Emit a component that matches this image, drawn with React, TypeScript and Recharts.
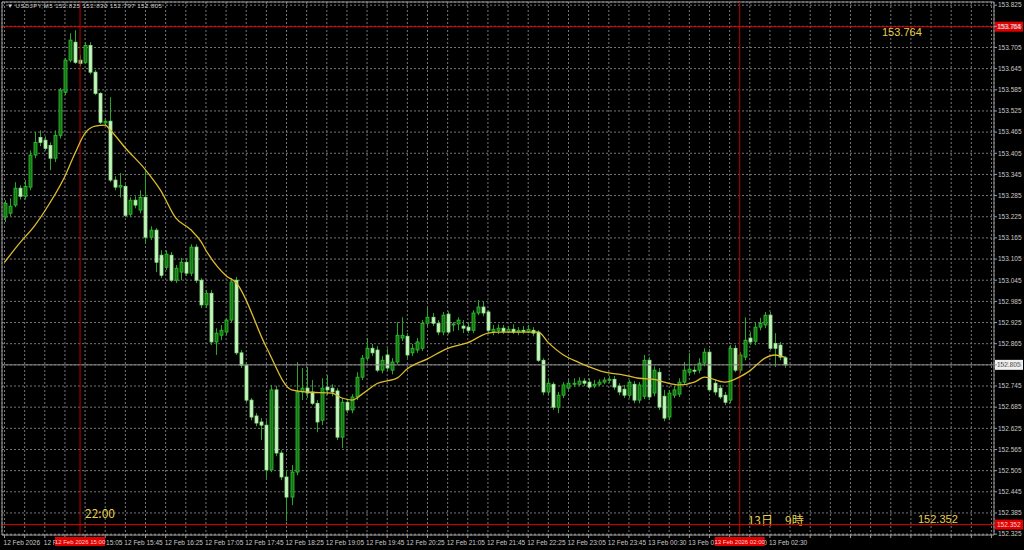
import { ComposedChart, Bar, Line, XAxis, YAxis, CartesianGrid, ReferenceLine } from "recharts"

// USDJPY M5 candles, 12 Feb 13:45 -> 13 Feb 02:45 (server time)
const opens = [
  153.224, 153.235, 153.258, 153.306, 153.283, 153.309, 153.4, 153.45, 153.442, 153.427,
  153.391, 153.456, 153.578, 153.669, 153.72, 153.669, 153.663, 153.711, 153.635, 153.575,
  153.491, 153.496, 153.329, 153.309, 153.311, 153.232, 153.272, 153.244, 153.28, 153.167,
  153.187, 153.116, 153.082, 153.116, 153.045, 153.068, 153.096, 153.065, 153.139, 153.045,
  152.975, 153.008, 152.87, 152.889, 152.898, 152.932, 153.045, 152.839, 152.804, 152.705,
  152.66, 152.643, 152.634, 152.507, 152.734, 152.555, 152.487, 152.43, 152.501, 152.728,
  152.739, 152.728, 152.696, 152.648, 152.742, 152.739, 152.731, 152.6, 152.699, 152.677,
  152.714, 152.77, 152.824, 152.852, 152.847, 152.79, 152.833, 152.79, 152.813, 152.881,
  152.886, 152.839, 152.847, 152.852, 152.923, 152.94, 152.923, 152.898, 152.949, 152.918,
  152.921, 152.915, 152.912, 152.903, 152.952, 152.969, 152.955, 152.9, 152.903, 152.909,
  152.9, 152.906, 152.898, 152.903, 152.9, 152.903, 152.898, 152.818, 152.728, 152.75,
  152.685, 152.719, 152.739, 152.75, 152.75, 152.759, 152.756, 152.745, 152.75, 152.756,
  152.762, 152.764, 152.745, 152.736, 152.719, 152.75, 152.705, 152.716, 152.818, 152.725,
  152.784, 152.716, 152.657, 152.719, 152.722, 152.756, 152.784, 152.79, 152.79, 152.81,
  152.841, 152.753, 152.739, 152.719, 152.705, 152.852, 152.79, 152.827, 152.881, 152.872,
  152.912, 152.918, 152.946, 152.866, 152.861, 152.825,
]
const highs = [
  153.272, 153.277, 153.323, 153.314, 153.329, 153.413, 153.465, 153.47, 153.453, 153.436,
  153.47, 153.59, 153.675, 153.745, 153.754, 153.683, 153.72, 153.72, 153.641, 153.578,
  153.505, 153.564, 153.34, 153.349, 153.317, 153.28, 153.283, 153.3, 153.357, 153.198,
  153.193, 153.13, 153.13, 153.125, 153.088, 153.108, 153.108, 153.147, 153.147, 153.051,
  153.017, 153.017, 152.909, 152.918, 152.938, 153.051, 153.054, 152.847, 152.813, 152.711,
  152.668, 152.654, 152.648, 152.748, 152.745, 152.563, 152.507, 152.521, 152.813, 152.796,
  152.799, 152.762, 152.705, 152.767, 152.776, 152.75, 152.739, 152.711, 152.708, 152.722,
  152.784, 152.833, 152.881, 152.864, 152.858, 152.83, 152.852, 152.824, 152.926, 152.94,
  152.895, 152.864, 152.881, 152.932, 152.966, 152.952, 152.932, 152.955, 152.957, 152.926,
  152.94, 152.932, 152.926, 152.96, 152.989, 152.983, 152.96, 152.918, 152.92, 152.918,
  152.915, 152.92, 152.912, 152.915, 152.918, 152.912, 152.903, 152.824, 152.767, 152.756,
  152.728, 152.756, 152.762, 152.767, 152.77, 152.767, 152.767, 152.762, 152.764, 152.77,
  152.773, 152.773, 152.753, 152.748, 152.762, 152.759, 152.756, 152.833, 152.827, 152.801,
  152.796, 152.734, 152.734, 152.745, 152.767, 152.813, 152.839, 152.801, 152.824, 152.852,
  152.85, 152.762, 152.748, 152.728, 152.861, 152.861, 152.841, 152.94, 152.898, 152.926,
  152.938, 152.955, 152.955, 152.895, 152.87, 152.83,
]
const lows = [
  153.21, 153.227, 153.252, 153.274, 153.274, 153.3, 153.391, 153.425, 153.413, 153.357,
  153.38, 153.447, 153.57, 153.663, 153.658, 153.652, 153.658, 153.629, 153.57, 153.488,
  153.485, 153.323, 153.3, 153.28, 153.224, 153.224, 153.249, 153.235, 153.15, 153.159,
  153.068, 153.051, 153.074, 153.04, 153.037, 153.045, 153.057, 153.057, 153.037, 152.966,
  152.966, 152.861, 152.833, 152.875, 152.889, 152.926, 152.833, 152.796, 152.699, 152.648,
  152.631, 152.592, 152.484, 152.501, 152.546, 152.478, 152.362, 152.407, 152.492, 152.705,
  152.711, 152.691, 152.614, 152.634, 152.719, 152.716, 152.592, 152.569, 152.668, 152.668,
  152.705, 152.762, 152.815, 152.83, 152.784, 152.781, 152.787, 152.778, 152.807, 152.872,
  152.824, 152.83, 152.839, 152.844, 152.915, 152.915, 152.889, 152.889, 152.892, 152.9,
  152.903, 152.895, 152.895, 152.895, 152.946, 152.943, 152.895, 152.889, 152.892, 152.892,
  152.895, 152.892, 152.889, 152.892, 152.895, 152.886, 152.813, 152.719, 152.719, 152.677,
  152.668, 152.711, 152.734, 152.742, 152.745, 152.745, 152.736, 152.739, 152.745, 152.75,
  152.753, 152.734, 152.719, 152.711, 152.711, 152.696, 152.696, 152.708, 152.705, 152.716,
  152.677, 152.645, 152.648, 152.711, 152.714, 152.748, 152.776, 152.778, 152.781, 152.801,
  152.728, 152.719, 152.708, 152.691, 152.696, 152.784, 152.781, 152.818, 152.861, 152.861,
  152.903, 152.909, 152.847, 152.799, 152.818, 152.797,
]
const closes = [
  153.263, 153.255, 153.306, 153.283, 153.311, 153.4, 153.436, 153.436, 153.419, 153.391,
  153.456, 153.584, 153.669, 153.726, 153.663, 153.66, 153.711, 153.635, 153.575, 153.493,
  153.496, 153.329, 153.309, 153.314, 153.229, 153.272, 153.258, 153.28, 153.167, 153.187,
  153.096, 153.059, 153.119, 153.045, 153.079, 153.096, 153.065, 153.139, 153.045, 152.975,
  153.008, 152.87, 152.895, 152.903, 152.932, 153.04, 152.839, 152.804, 152.705, 152.657,
  152.64, 152.634, 152.507, 152.734, 152.555, 152.487, 152.43, 152.501, 152.728, 152.739,
  152.725, 152.696, 152.643, 152.739, 152.734, 152.728, 152.6, 152.699, 152.677, 152.714,
  152.77, 152.824, 152.852, 152.839, 152.79, 152.818, 152.796, 152.813, 152.889, 152.889,
  152.833, 152.852, 152.87, 152.923, 152.94, 152.923, 152.898, 152.946, 152.898, 152.921,
  152.932, 152.909, 152.903, 152.952, 152.969, 152.952, 152.903, 152.906, 152.909, 152.9,
  152.906, 152.898, 152.903, 152.9, 152.906, 152.895, 152.818, 152.728, 152.753, 152.685,
  152.719, 152.748, 152.753, 152.753, 152.759, 152.753, 152.742, 152.75, 152.756, 152.762,
  152.764, 152.742, 152.728, 152.719, 152.756, 152.705, 152.748, 152.818, 152.714, 152.79,
  152.685, 152.654, 152.725, 152.734, 152.756, 152.79, 152.793, 152.787, 152.81, 152.841,
  152.734, 152.728, 152.714, 152.699, 152.852, 152.79, 152.833, 152.875, 152.87, 152.912,
  152.923, 152.946, 152.852, 152.852, 152.827, 152.805,
]

// moving average at these bars
const maBars = [
  0, 3, 6, 9, 12, 14, 16, 18, 20, 21, 24, 28, 31, 34, 37, 39, 40, 44, 46, 52, 57, 60, 65, 67, 69, 71,
  74, 78, 80, 84, 88, 92, 96, 98, 106, 108, 111, 114, 116, 119, 123, 126, 129, 131, 134, 137, 139,
  143, 146, 148, 151, 153, 155,
]
const maValues = [
  153.096, 153.15, 153.2, 153.264, 153.34, 153.405, 153.462, 153.482, 153.485, 153.471, 153.42,
  153.358, 153.3, 153.222, 153.188, 153.155, 153.13, 153.058, 153.038, 152.855, 152.734, 152.728,
  152.725, 152.711, 152.705, 152.722, 152.752, 152.768, 152.794, 152.822, 152.852, 152.868, 152.895,
  152.898, 152.898, 152.868, 152.833, 152.812, 152.8, 152.785, 152.776, 152.767, 152.764, 152.756,
  152.748, 152.756, 152.77, 152.756, 152.771, 152.788, 152.824, 152.833, 152.826,
]

const tickBars = [0, 8, 16, 24, 32, 40, 48, 56, 64, 72, 80, 88, 96, 104, 112, 120, 128, 136, 144, 152]
const tickTexts = [
  "12 Feb 2026", "12 Feb 14:25", "12 Feb 15:05", "12 Feb 15:45", "12 Feb 16:25", "12 Feb 17:05",
  "12 Feb 17:45", "12 Feb 18:25", "12 Feb 19:05", "12 Feb 19:45", "12 Feb 20:25", "12 Feb 21:05",
  "12 Feb 21:45", "12 Feb 22:25", "12 Feb 23:05", "12 Feb 23:45", "13 Feb 00:30", "13 Feb 01:10",
  "13 Feb 01:50", "13 Feb 02:30",
]

const priceTicks = [
  153.825, 153.765, 153.705, 153.645, 153.585, 153.525, 153.465, 153.405, 153.345, 153.285,
  153.225, 153.165, 153.105, 153.045, 152.985, 152.925, 152.865, 152.805, 152.745, 152.685,
  152.625, 152.565, 152.505, 152.445, 152.385, 152.325,
]

const highLine = 153.764
const lowLine = 152.352
const bidPrice = 152.805
const markBars = [15, 146]
const markTimes = ["12 Feb 2026 15:00", "13 Feb 2026 02:00"]
const markNotes = ["22:00", "13日\u30009時"]
const header = "USDJPY,M5 152.825 152.830 152.797 152.805"

const SLOTS = 197 // bars + empty space on the right (chart shift)
const GRID_STEP = 4

const rows = Array.from({ length: SLOTS }, (_, i) => {
  const row: any = { i }
  if (i < opens.length) {
    row.range = [lows[i], highs[i]]
    row.open = opens[i]
    row.close = closes[i]
  }
  const k = maBars.indexOf(i)
  if (k >= 0) row.ma = maValues[k]
  return row
})

const FONT = "'Liberation Sans', Arial, sans-serif"
const YELLOW = "#e6cf4a"
const RED = "#e00000"

function Candle(props: any) {
  const { x, y, width, height, payload } = props
  if (!payload || !payload.range) return null
  const [lo, hi] = payload.range
  const top = Math.min(y, y + height)
  const h = Math.abs(height)
  const yAt = (p: number) => top + ((hi - p) / (hi - lo)) * h
  const cx = Math.round(x + width / 2) + 0.5
  const yo = yAt(payload.open)
  const yc = yAt(payload.close)
  const bull = payload.close >= payload.open
  const bt = Math.min(yo, yc)
  const bh = Math.max(1, Math.abs(yo - yc))
  return (
    <g>
      <line x1={cx} x2={cx} y1={top} y2={top + h} stroke="#2aa52a" strokeWidth={1} />
      <rect
        x={cx - 1.5}
        y={bt}
        width={3}
        height={bh}
        fill={bull ? "#137513" : "#c6f4be"}
        stroke={bull ? "#32c432" : "#94e48e"}
        strokeWidth={0.8}
      />
    </g>
  )
}

// time labels; the red time tags of the vertical lines are drawn from the next grid tick
// so that they sit on top of the labels, like in the terminal
function TimeTick(props: any) {
  const { x, y, payload, width } = props
  const k = tickBars.indexOf(payload.value)
  const band = payload.offset ? payload.offset * 2 : width / SLOTS
  const tags = markBars
    .map((b, m) => ({ b, m }))
    .filter(({ b }) => Math.ceil(b / GRID_STEP) * GRID_STEP === payload.value)
  return (
    <g>
      {k >= 0 && (
        <text x={x - 1} y={y + 5} fill="#c8c8c8" fontSize={6.5} fontFamily={FONT} textAnchor="start">
          {tickTexts[k]}
        </text>
      )}
      {tags.map(({ b, m }) => {
        const mx = x + (b - payload.value) * band
        return (
          <g key={b}>
            <rect x={mx - 25} y={y - 3} width={50} height={9} fill={RED} />
            <text x={mx} y={y + 4} fill="#ffd0d0" fontSize={6} fontFamily={FONT} textAnchor="middle">
              {markTimes[m]}
            </text>
          </g>
        )
      })}
    </g>
  )
}

function PriceTag({ viewBox, text, note, noteDx, noteDy, bg, fg }: any) {
  if (!viewBox) return null
  const right = viewBox.x + viewBox.width
  return (
    <g>
      {note && (
        <text x={right + noteDx} y={viewBox.y + noteDy} fill={YELLOW} fontSize={11} fontFamily={FONT}>
          {note}
        </text>
      )}
      <rect x={right + 1} y={viewBox.y - 5} width={28} height={10} fill={bg} />
      <text x={right + 3} y={viewBox.y + 2.5} fill={fg} fontSize={6.5} fontFamily={FONT}>
        {text}
      </text>
    </g>
  )
}

function TimeNote({ viewBox, note, noteDx, noteDy }: any) {
  if (!viewBox) return null
  const bottom = viewBox.y + viewBox.height
  return (
    <text
      x={viewBox.x + noteDx}
      y={bottom + noteDy}
      fill={YELLOW}
      fontSize={12}
      fontFamily="'Noto Sans CJK JP', 'Liberation Sans', sans-serif"
    >
      {note}
    </text>
  )
}

export default function App() {
  return (
    <div style={{ position: "absolute", left: 0, top: 0, width: 1024, height: 550, background: "#000" }}>
      <ComposedChart
        width={1024}
        height={550}
        data={rows}
        margin={{ top: 2, right: 0, bottom: 0, left: 0 }}
        barCategoryGap={0}
      >
        <CartesianGrid stroke="#777" strokeDasharray="2 2" />
        <YAxis
          yAxisId="frame"
          orientation="left"
          width={2}
          domain={[152.3225, 153.834]}
          allowDataOverflow
          tick={false}
          tickLine={false}
          axisLine={{ stroke: "#9a9a9a" }}
        />
        <YAxis
          orientation="right"
          width={30}
          domain={[152.3225, 153.834]}
          allowDataOverflow
          ticks={priceTicks}
          interval={0}
          tickSize={3}
          tickMargin={1}
          tickLine={{ stroke: "#9a9a9a" }}
          axisLine={{ stroke: "#9a9a9a" }}
          tick={{ fill: "#c8c8c8", fontSize: 6.5, fontFamily: FONT }}
          tickFormatter={(v: number) => v.toFixed(3)}
        />
        <ReferenceLine y={153.834} stroke="#9a9a9a" />
        <ReferenceLine y={bidPrice} stroke="#8a8a8a" label={<PriceTag text={bidPrice.toFixed(3)} bg="#f0f0f0" fg="#202020" />} />
        {markBars.map((b, k) => (
          <ReferenceLine
            key={b}
            x={b}
            stroke="#c00000"
            label={<TimeNote note={markNotes[k]} noteDx={k === 0 ? 5 : 8} noteDy={k === 0 ? -17 : -10} />}
          />
        ))}
        <Bar dataKey="range" shape={<Candle />} isAnimationActive={false} />
        <Line
          dataKey="ma"
          type="monotone"
          stroke="#dcbc2c"
          strokeWidth={1.3}
          dot={false}
          connectNulls
          isAnimationActive={false}
        />
        <ReferenceLine
          y={highLine}
          stroke={RED}
          label={<PriceTag text={highLine.toFixed(3)} note={highLine.toFixed(3)} noteDx={-112} noteDy={9} bg={RED} fg="#ffd0d0" />}
        />
        <ReferenceLine
          y={lowLine}
          stroke={RED}
          label={<PriceTag text={lowLine.toFixed(3)} note={lowLine.toFixed(3)} noteDx={-76} noteDy={-2} bg={RED} fg="#ffd0d0" />}
        />
        <XAxis
          dataKey="i"
          interval={GRID_STEP - 1}
          height={15}
          tickSize={3}
          tickLine={{ stroke: "#9a9a9a" }}
          axisLine={{ stroke: "#9a9a9a" }}
          tick={<TimeTick />}
        />
      </ComposedChart>
      <div
        style={{
          position: "absolute",
          left: 7,
          top: 3,
          fontFamily: FONT,
          fontSize: 6,
          letterSpacing: 0.5,
          color: "#d0d0d0",
          whiteSpace: "pre",
        }}
      >
        {"\u25BC " + header}
      </div>
    </div>
  )
}
